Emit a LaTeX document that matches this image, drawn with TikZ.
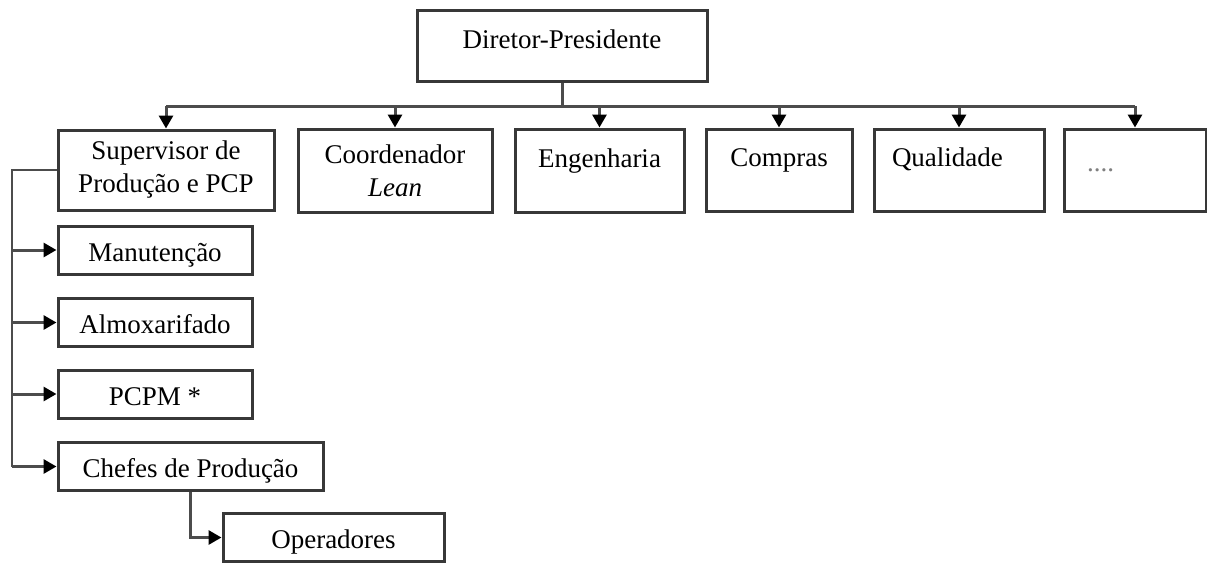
\documentclass[tikz,border=0pt]{standalone}
\usepackage{fontspec}
\setmainfont{Liberation Serif}
\usetikzlibrary{arrows.meta}
\colorlet{box edge}{black!78}
\colorlet{link line}{black!70}
\tikzset{
  box/.style={draw=box edge, line width=1.5pt, fill=white, align=center, inner sep=0pt,
    font=\fontsize{13.5}{16.5}\selectfont},
  head/.style={text height=6pt, text depth=9.5pt},
  small/.style={minimum width=97pt, minimum height=24pt, text height=12pt, text depth=1pt}
  }
\tikzstyle{link} = [draw=link line, line width=1.1pt]
\tikzstyle{bus line} = [draw=link line, line width=1.5pt]
\tikzstyle{feed} = [draw=link line, line width=1.5pt, -{Triangle[width=7pt,length=6.5pt,color=black]}]

\begin{document}
\begin{tikzpicture}[x=0.5pt, y=-0.5pt]
    \useasboundingbox (0,0) rectangle (1207,563);

    % top and first level
    \node[box, minimum width=145pt, minimum height=35.5pt, text height=8pt, text depth=5.5pt] (dir) at (562,45.5) {Diretor-Presidente};
    \node[box, minimum width=108pt, minimum height=40pt] (sup) at (166,170) {Supervisor de\\Produção e PCP};
    \node[box, minimum width=97pt, minimum height=41.5pt] (coord) at (395,170.5) {Coordenador\\\textit{Lean}};
    \node[box, head, minimum width=84.5pt, minimum height=41.5pt] (eng) at (599.5,170.5) {Engenharia};
    \node[box, head, minimum width=73pt, minimum height=41pt] (comp) at (779,170) {Compras};
    \node[box, head, minimum width=85pt, minimum height=41pt, inner xsep=9pt, text width=67pt, align=left] (qual) at (959,170) {Qualidade};
    \node[box, minimum width=71pt, minimum height=41pt, inner xsep=11.5pt, text width=48pt, align=left] (more) at (1135,170) {\color{black!50}....};

    % production side
    \node[box, small] (man) at (155,250) {Manutenção};
    \node[box, small] (alm) at (155,322.5) {Almoxarifado};
    \node[box, small] (pcpm) at (155,394) {PCPM *};
    \node[box, small, minimum width=132.5pt] (chef) at (190.5,466.5) {Chefes de Produção};
    \node[box, small, minimum width=110.5pt] (oper) at (333.5,537.5) {Operadores};

    \coordinate (bus) at (562,106);
    \coordinate (spine) at (12,0);

    \path[bus line] (dir.south) -- (bus);
    \path[bus line] (sup.north |- bus) -- (more.north |- bus);
    \foreach \name in {sup, coord, eng, comp, qual, more}
      \path[feed] (\name.north |- bus) -- (\name.north);

    \path[link] (sup.west) -| (spine |- chef.west);
    \foreach \name in {man, alm, pcpm, chef}
      \path[feed] (spine |- \name.west) -- (\name.west);
    \path[feed] (chef.south) |- (oper.west);

\end{tikzpicture}
\end{document}
